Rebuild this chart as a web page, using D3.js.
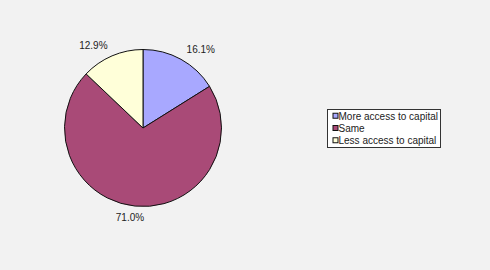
<!DOCTYPE html>
<html>
<head>
<meta charset="utf-8">
<script src="https://cdn.jsdelivr.net/npm/d3@7"></script>
<style>
  body { margin: 0; background: #f2f2f2; }
  text { font-family: "Liberation Sans", Arial, sans-serif; font-size: 10px; fill: #222; }
</style>
</head>
<body>
<div id="chart"></div>
<script>
const categories = ["More access to capital", "Same", "Less access to capital"]
const values = [16.1, 71.0, 12.9]
const colors = ["#a8a8ff", "#a94a77", "#ffffd9"]

const width = 490, height = 270
const center = {x: 143, y: 128}
const radius = 78.5

const svg = d3.select("#chart").append("svg").attr("width", width).attr("height", height)
svg.append("rect").attr("width", width).attr("height", height).attr("fill", "#f2f2f2")

const data = categories.map((c, i) => ({name: c, value: values[i]}))
const pie = d3.pie().value(d => d.value).sort(null)
const arc = d3.arc().innerRadius(0).outerRadius(radius)
const labelArc = d3.arc().innerRadius(90).outerRadius(90)
const color = d3.scaleOrdinal().domain(categories).range(colors)

let g = svg.append("g").attr("transform", `translate(${center.x},${center.y})`)
const arcs = pie(data)

g.selectAll("path").data(arcs).enter().append("path")
  .attr("d", arc)
  .attr("fill", d => color(d.data.name))
  .attr("stroke", "#111")
  .attr("stroke-width", 1)

// labels sit just outside the pie, anchored away from it
g.selectAll("text.lbl").data(arcs).enter().append("text")
  .attr("class", "lbl")
  .attr("x", d => {
    let p = labelArc.centroid(d)
    let s = Math.sin((d.startAngle + d.endAngle) / 2)
    return Math.abs(s) < 0.3 ? p[0] - 4 : p[0]
  })
  .attr("y", d => labelArc.centroid(d)[1])
  .attr("dy", "0.35em")
  .attr("text-anchor", d => {
    let s = Math.sin((d.startAngle + d.endAngle) / 2)
    return s > 0.3 ? "start" : s < -0.3 ? "end" : "middle"
  })
  .text(d => d3.format(".1f")(d.data.value) + "%")

// legend
const legend = {x: 327.5, y: 109.5, w: 113, h: 38, row: 13}
let lg = svg.append("g").attr("transform", `translate(${legend.x},${legend.y})`)
lg.append("rect").attr("width", legend.w).attr("height", legend.h)
  .attr("fill", "#fff").attr("stroke", "#333").attr("stroke-width", 1)

const y = d3.scaleBand().domain(categories).range([0, legend.h]).paddingOuter(0.05)
let items = lg.selectAll("g.item").data(categories).enter().append("g")
  .attr("class", "item")
  .attr("transform", d => `translate(0,${y(d) + y.bandwidth() / 2})`)
items.append("rect")
  .attr("x", 5.5).attr("y", -3).attr("width", 5).attr("height", 5)
  .attr("fill", d => color(d)).attr("stroke", "#111").attr("stroke-width", 1)
items.append("text")
  .attr("x", 11).attr("dy", "0.35em")
  .text(d => d)
</script>
</body>
</html>
